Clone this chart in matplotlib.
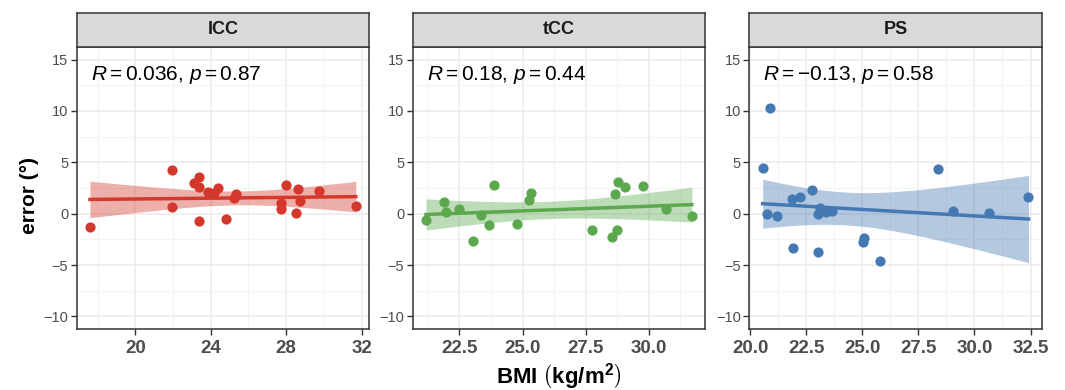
import matplotlib
matplotlib.use("Agg")
import matplotlib.pyplot as plt
import matplotlib.transforms as mtransforms
import numpy as np

plt.rcParams["font.family"] = ["Liberation Sans", "DejaVu Sans"]
plt.rcParams["mathtext.fontset"] = "custom"
plt.rcParams["mathtext.rm"] = "Liberation Sans"
plt.rcParams["mathtext.it"] = "Liberation Sans:italic"
plt.rcParams["mathtext.bf"] = "Liberation Sans:bold"

# panel names, colours and stats labels
panels = ["ICC", "tCC", "PS"]
colors = ["#D4382C", "#5BA84E", "#4479B3"]
stats = [r"$R = 0.036$, $p = 0.87$",
         r"$R = 0.18$, $p = 0.44$",
         r"$R = -0.13$, $p = 0.58$"]

# ICC
icc_bmi = [17.6, 21.96, 21.93, 23.13, 23.4, 23.4, 23.38, 23.87, 24.4, 24.18, 24.8,
           25.33, 25.25, 28.01, 27.73, 27.71, 28.65, 28.74, 28.54, 29.75, 31.69]
icc_err = [-1.26, 4.27, 0.65, 3.0, 3.6, 2.55, -0.75, 2.07, 2.46, 1.97, -0.55,
           1.9, 1.49, 2.78, 1.0, 0.45, 2.36, 1.26, 0.06, 2.17, 0.78]

# tCC
tcc_bmi = [21.18, 21.9, 21.97, 22.49, 23.04, 23.36, 23.66, 23.88, 24.78, 25.32,
           25.25, 27.74, 28.54, 28.73, 28.65, 28.76, 29.06, 29.75, 30.67, 31.7]
tcc_err = [-0.65, 1.13, 0.13, 0.49, -2.62, -0.1, -1.13, 2.78, -1.0, 1.97,
           1.36, -1.55, -2.27, -1.62, 1.88, 3.07, 2.55, 2.69, 0.45, -0.26]

# PS
ps_bmi = [20.88, 20.55, 20.74, 21.19, 21.87, 22.23, 21.89, 22.76, 23.03, 23.0,
          23.13, 23.37, 23.64, 25.08, 25.03, 25.79, 28.36, 29.06, 30.65, 32.41]
ps_err = [10.3, 4.47, 0.0, -0.22, 1.39, 1.59, -3.3, 2.3, -3.76, 0.0,
          0.55, 0.13, 0.26, -2.4, -2.73, -4.64, 4.31, 0.22, 0.1, 1.59]

xdata = [icc_bmi, tcc_bmi, ps_bmi]
ydata = [icc_err, tcc_err, ps_err]
x_major = [[20, 24, 28, 32], [22.5, 25.0, 27.5, 30.0], [20.0, 22.5, 25.0, 27.5, 30.0, 32.5]]
x_labels = [["20", "24", "28", "32"], ["22.5", "25.0", "27.5", "30.0"],
            ["20.0", "22.5", "25.0", "27.5", "30.0", "32.5"]]


def t975(df):
    # Cornish-Fisher style approximation of the t quantile
    z = 1.959964
    return z + (z**3 + z) / (4 * df) + (5 * z**5 + 16 * z**3 + 3 * z) / (96 * df**2)


def fit_band(x, y):
    x = np.asarray(x)
    y = np.asarray(y)
    n = len(x)
    b, a = np.polyfit(x, y, 1)
    resid = y - (a + b * x)
    s = np.sqrt(np.sum(resid**2) / (n - 2))
    xs = np.linspace(x.min(), x.max(), 80)
    se = s * np.sqrt(1 / n + (xs - x.mean())**2 / np.sum((x - x.mean())**2))
    ys = a + b * xs
    t = t975(n - 2)
    return xs, ys, ys - t * se, ys + t * se


fig = plt.figure(figsize=(10.65, 3.9), dpi=100)
lefts = [0.0720, 0.3875, 0.7036]
width = 0.2746
bottom = 0.1556
height = 0.7247
strip_h = 0.0856
edge = "#333333"

for i in range(3):
    ax = fig.add_axes([lefts[i], bottom, width, height])
    x = np.asarray(xdata[i])
    y = np.asarray(ydata[i])

    xs, ys, lo, hi = fit_band(x, y)
    ax.fill_between(xs, lo, hi, color=colors[i], alpha=0.4, linewidth=0, zorder=2)
    ax.plot(xs, ys, color=colors[i], linewidth=2.5, zorder=3)
    ax.scatter(x, y, s=54, color=colors[i], linewidths=0, zorder=4)

    ax.set_xticks(x_major[i])
    ax.set_xticklabels(x_labels[i])
    step = x_major[i][1] - x_major[i][0]
    ax.set_xticks(np.arange(x_major[i][0] - step / 2, x_major[i][-1] + step, step), minor=True)
    ax.set_yticks([-10, -5, 0, 5, 10, 15])
    ax.set_yticks([-7.5, -2.5, 2.5, 7.5, 12.5], minor=True)

    # ggplot-ish expansion (after ticks so they don't widen the view)
    span = x.max() - x.min()
    ax.set_xlim(x.min() - 0.05 * span, x.max() + 0.05 * span)
    ax.set_ylim(-11.25, 16.25)

    ax.grid(True, which="major", color="#EBEBEB", linewidth=1.1, zorder=0)
    ax.grid(True, which="minor", color="#F2F2F2", linewidth=0.6, zorder=0)
    ax.set_axisbelow(True)

    ax.tick_params(which="major", length=4, width=1, color=edge)
    ax.tick_params(which="minor", length=0)
    ax.tick_params(axis="x", labelsize=13.5, labelcolor="#4D4D4D", pad=4)
    ax.tick_params(axis="y", labelsize=10.5, labelcolor="#4D4D4D", pad=2)
    for lab in ax.get_xticklabels():
        lab.set_fontweight("bold")
    for sp in ax.spines.values():
        sp.set_color(edge)
        sp.set_linewidth(1.1)

    trans = mtransforms.blended_transform_factory(ax.transAxes, ax.transData)
    ax.text(0.048, 13.5, stats[i], transform=trans, fontsize=15, va="center", ha="left")

    # facet strip
    sax = fig.add_axes([lefts[i], bottom + height, width, strip_h])
    sax.set_facecolor("#D9D9D9")
    sax.set_xticks([])
    sax.set_yticks([])
    for sp in sax.spines.values():
        sp.set_color(edge)
        sp.set_linewidth(1.1)
    sax.text(0.5, 0.5, panels[i], transform=sax.transAxes, ha="center", va="center",
             fontsize=13, fontweight="bold", color="#1A1A1A")

fig.text(0.028, 0.5, "error (°)", rotation=90, ha="center", va="center",
         fontsize=15, fontweight="bold")
fig.text(0.525, 0.035, r"$\mathbf{BMI}\ \left(\mathbf{kg/m^{2}}\right)$", ha="center",
         va="center", fontsize=16)

fig.savefig("out.png", dpi=100)
